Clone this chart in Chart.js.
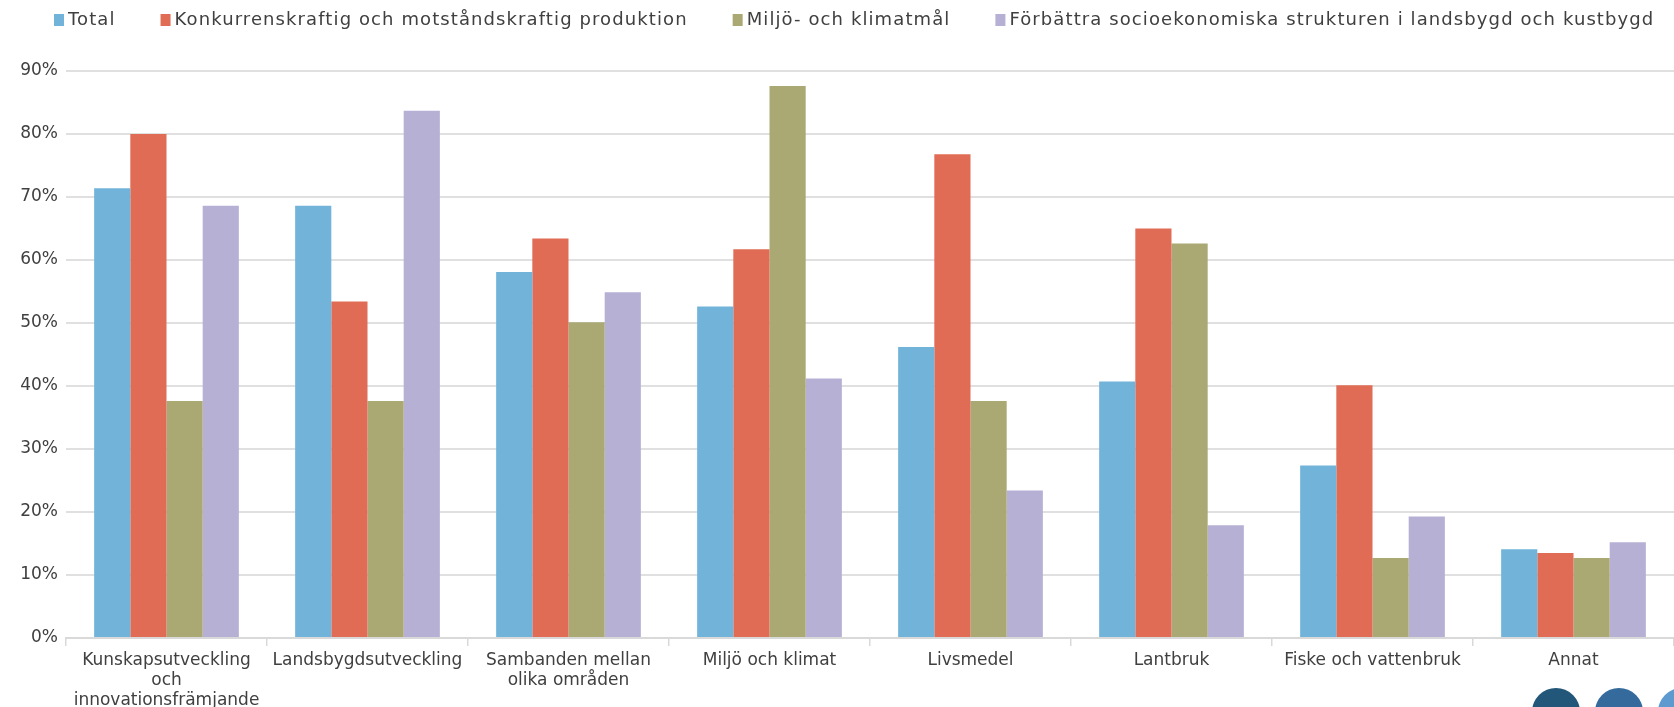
<!DOCTYPE html>
<html>
<head>
<meta charset="utf-8">
<script src="https://cdn.jsdelivr.net/npm/chart.js@4"></script>
<style>
  html, body { margin: 0; padding: 0; background: #fff; }
</style>
</head>
<body>
<canvas id="chart" width="1674" height="707"></canvas>
<script>
const categories = [
  ['Kunskapsutveckling', 'och', 'innovationsfrämjande'],
  'Landsbygdsutveckling',
  ['Sambanden mellan', 'olika områden'],
  'Miljö och klimat',
  'Livsmedel',
  'Lantbruk',
  'Fiske och vattenbruk',
  'Annat'
];
const seriesNames = [
  'Total',
  'Konkurrenskraftig och motståndskraftig produktion',
  'Miljö- och klimatmål',
  'Förbättra socioekonomiska strukturen i landsbygd och kustbygd'
];
const totalValues = [71.4, 68.6, 58.1, 52.6, 46.2, 40.7, 27.4, 14.1];
const konkurrensValues = [80.0, 53.4, 63.4, 61.7, 76.8, 65.0, 40.1, 13.5];
const miljoValues = [37.6, 37.6, 50.1, 87.6, 37.6, 62.6, 12.7, 12.7];
const socioValues = [68.6, 83.7, 54.9, 41.2, 23.4, 17.9, 19.3, 15.2];
const seriesColors = ['#72b4d9', '#e06c55', '#aaa974', '#b6b0d5'];
const yMax = 90;
const yStep = 10;

const FONT = '"DejaVu Sans", sans-serif';
const TEXT = '#404040';

// legend drawn by hand so the spacing can follow the original slide
const topLegend = {
  id: 'topLegend',
  afterDraw(chart) {
    const { ctx } = chart;
    ctx.save();
    ctx.font = '18px ' + FONT;
    ctx.letterSpacing = '1.1px';
    ctx.textBaseline = 'middle';
    let x = 54;
    chart.data.datasets.forEach((ds) => {
      ctx.fillStyle = ds.backgroundColor;
      ctx.fillRect(x, 14, 10, 12);
      ctx.fillStyle = TEXT;
      ctx.fillText(ds.label, x + 14, 20);
      x += 14 + ctx.measureText(ds.label).width + 45;
    });
    ctx.restore();
  }
};

// slide decoration in the lower right corner
const cornerDots = {
  id: 'cornerDots',
  afterDraw(chart) {
    const { ctx } = chart;
    ctx.save();
    [['#225779', 1556], ['#346b9c', 1619], ['#5e9ad0', 1682]].forEach(([c, cx]) => {
      ctx.fillStyle = c;
      ctx.beginPath();
      ctx.arc(cx, 712, 24, 0, Math.PI * 2);
      ctx.fill();
    });
    ctx.restore();
  }
};

const valueSets = [totalValues, konkurrensValues, miljoValues, socioValues];

new Chart(document.getElementById('chart').getContext('2d'), {
  type: 'bar',
  data: {
    labels: categories,
    datasets: valueSets.map((vals, i) => ({
      label: seriesNames[i],
      data: vals,
      backgroundColor: seriesColors[i],
      borderWidth: 0,
      barPercentage: 1,
      categoryPercentage: 0.72
    }))
  },
  options: {
    responsive: false,
    animation: false,
    layout: { padding: { top: 71, right: 0, bottom: 0, left: 0 } },
    plugins: {
      legend: { display: false },
      tooltip: { enabled: false }
    },
    scales: {
      x: {
        afterFit(scale) { scale.height = 69; },
        grid: {
          offset: true,
          drawOnChartArea: false,
          drawTicks: true,
          tickLength: 8,
          color: '#d9d9d9',
          lineWidth: 1.5
        },
        border: { color: '#d9d9d9', width: 2 },
        ticks: {
          color: TEXT,
          font: { family: FONT, size: 17, lineHeight: '20px' },
          padding: 5,
          maxRotation: 0,
          autoSkip: false
        }
      },
      y: {
        min: 0,
        max: yMax,
        afterFit(scale) { scale.width = 66; },
        grid: { color: '#e0e0e0', lineWidth: 2, drawTicks: false },
        border: { display: false },
        ticks: {
          stepSize: yStep,
          color: TEXT,
          padding: 8,
          font: { family: FONT, size: 17 },
          callback: (v) => v + '%'
        }
      }
    }
  },
  plugins: [topLegend, cornerDots]
});
</script>
</body>
</html>
